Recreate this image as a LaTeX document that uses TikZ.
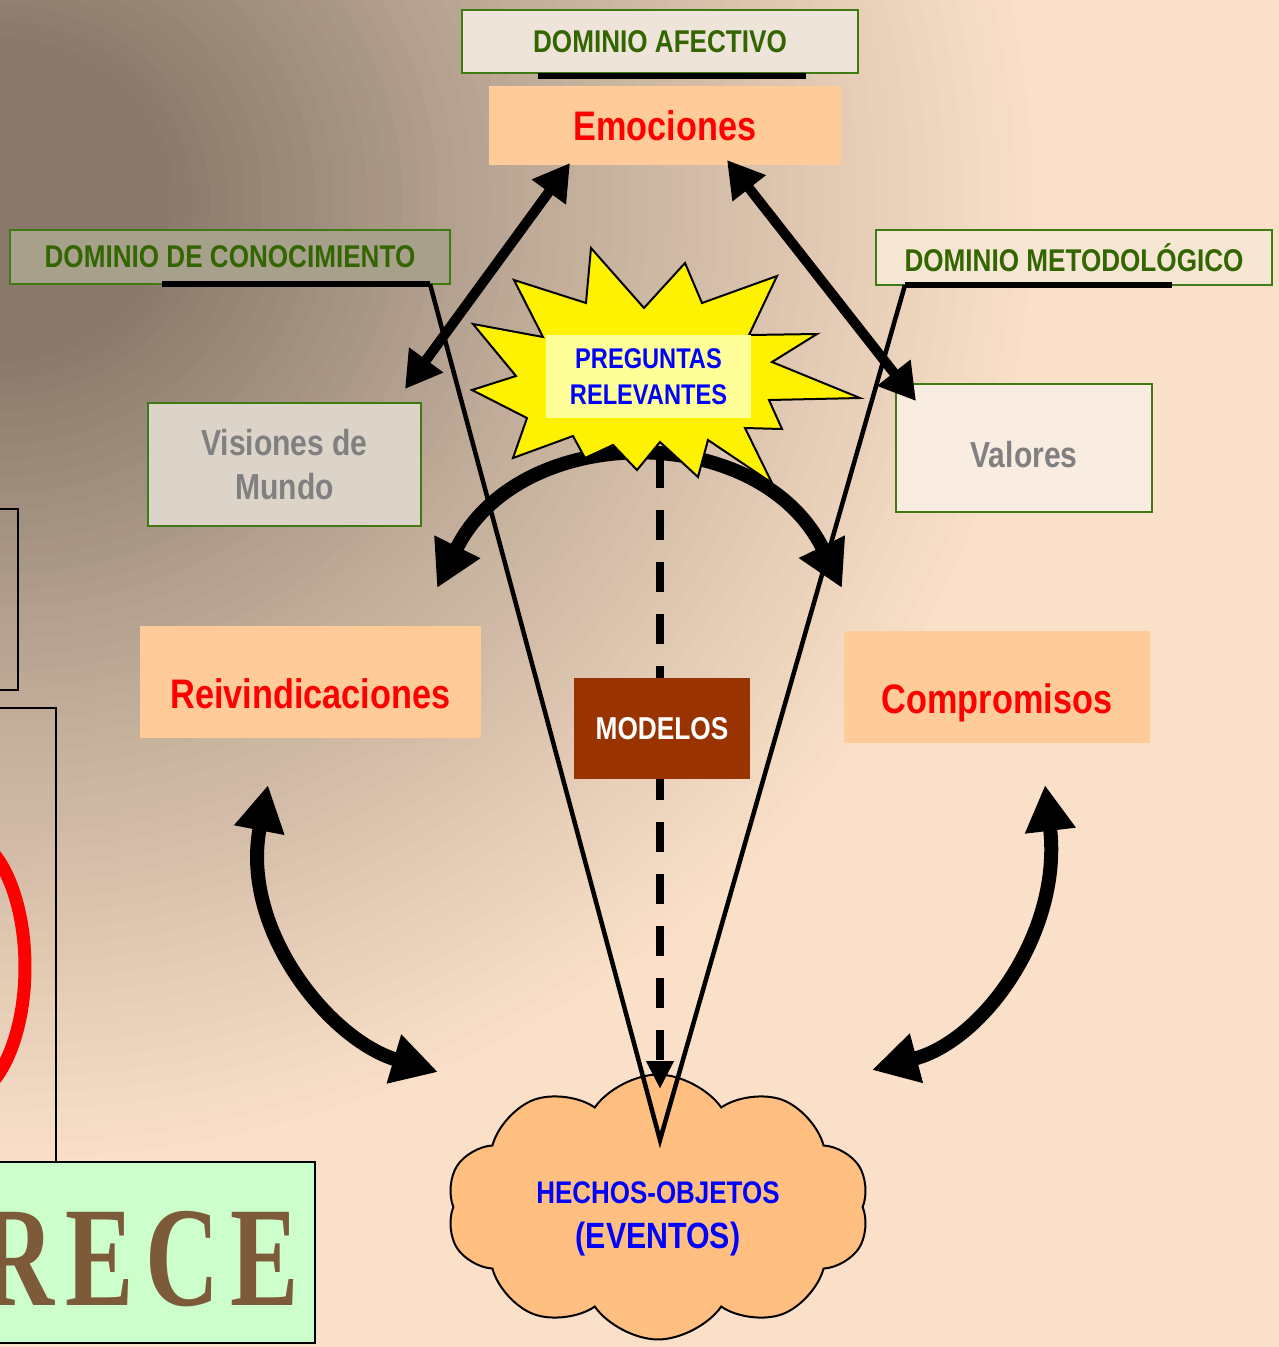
\documentclass[tikz,border=0pt]{standalone}
\usepackage{fontspec}
\setmainfont{Liberation Sans}
\newfontfamily\narrow[FakeStretch=0.83]{Liberation Sans}
\newfontfamily\wordart[FakeStretch=0.72,LetterSpace=8]{Liberation Serif}
\usetikzlibrary{arrows.meta,shapes.symbols}

\definecolor{bgdark}{RGB}{136,121,106}
\definecolor{bgpeach}{RGB}{250,224,200}
\definecolor{boxpeach}{HTML}{FFCC99}
\definecolor{modbrown}{HTML}{993300}
\definecolor{pregfill}{HTML}{FFFF99}
\definecolor{cloudfill}{HTML}{FFBF80}
\definecolor{recegreen}{HTML}{CCFFCC}
\definecolor{txtgreen}{HTML}{336600}
\definecolor{domgreen}{HTML}{3F7A12}
\definecolor{txtgray}{HTML}{808080}
\definecolor{afecfill}{HTML}{EEE4D9}
\definecolor{conofill}{HTML}{A7A08B}
\definecolor{metofill}{HTML}{F6E6D4}
\definecolor{visfill}{HTML}{DCD3C9}
\definecolor{valfill}{HTML}{F9EDE2}
\definecolor{wordbrown}{HTML}{7D5A38}

\begin{document}
\begin{tikzpicture}[x=0.02cm,y=-0.02cm,>={Triangle[length=0.72cm,width=0.8cm]},
  dombox/.style={draw=domgreen,line width=0.04cm,text=txtgreen,inner sep=0pt,
    font=\narrow\bfseries\fontsize{17.9}{20}\selectfont},
  peachbox/.style={fill=boxpeach,text=red,inner sep=0pt,
    font=\narrow\bfseries\fontsize{23.5}{26}\selectfont},
  graybox/.style={draw=domgreen,line width=0.04cm,text=txtgray,inner sep=0pt,align=center,
    font=\narrow\bfseries\fontsize{20.6}{25.5}\selectfont},
  bar/.style={line width=0.13cm},
  vline/.style={line width=0.09cm},
  bigarrow/.style={<->,line width=0.2cm},
  curvearrow/.style={line width=0.28cm,
    {Triangle[length=0.92cm,width=0.96cm]}-{Triangle[length=0.92cm,width=0.96cm]}},
  dasharrow/.style={line width=0.16cm,dash pattern=on 0.6cm off 0.44cm,
    -{Triangle[length=0.56cm,width=0.52cm]}}]
  \useasboundingbox (0,0) rectangle (1279,1347);
  \clip (0,0) rectangle (1279,1347);
  % background: dark in the upper left, peach elsewhere
  \fill[bgpeach] (0,0) rectangle (1279,1347);
  \foreach \i in {60,...,1} {
    \pgfmathsetmacro\f{\i/80}
    \pgfmathsetmacro\p{\f<0.12 ? 0 : (\f<0.4 ? (\f-0.12)/0.28*50 : 50+(\f-0.4)/0.35*50)}
    \fill[bgpeach!\p!bgdark] (0,200) ellipse ({1400*\f} and {1300*\f});
  }

  % left side, cut off by the page
  \draw[line width=0.04cm] (-20,509) rectangle (18,690);
  \draw[line width=0.04cm] (-20,708) -- (56,708) -- (56,1162);
  \draw[red,line width=0.26cm] (-39,967) ellipse (64 and 132);
  \draw[line width=0.04cm,fill=recegreen] (-20,1162) rectangle (315,1343);
  \node[anchor=base west,inner sep=0pt,text=wordbrown,
    font=\wordart\bfseries\fontsize{81}{81}\selectfont] (rece) at (-20,1305) {RECE};

  % domains
  \node[dombox,fill=afecfill,minimum width=7.92cm,minimum height=1.26cm] (afec) at (660,41.5) {DOMINIO AFECTIVO};
  \node[dombox,fill=conofill,minimum width=8.8cm,minimum height=1.08cm] (cono) at (230,257) {DOMINIO DE CONOCIMIENTO};
  \node[dombox,fill=metofill,minimum width=7.92cm,minimum height=1.1cm] (meto) at (1074,257.5) {DOMINIO METODOLÓGICO};

  \node[peachbox,minimum width=7.04cm,minimum height=1.58cm] (emo) at (665,125.5) {Emociones};
  \node[graybox,fill=visfill,minimum width=5.46cm,minimum height=2.46cm] (vis) at (284.5,464.5) {Visiones de\\Mundo};
  \node[graybox,fill=valfill,minimum width=5.12cm,minimum height=2.56cm,text height=22pt,text depth=0pt] (val) at (1024,448) {Valores};
  \node[peachbox,minimum width=6.82cm,minimum height=2.24cm,text height=30pt,text depth=0pt] (reiv) at (310.5,682) {Reivindicaciones};
  \node[peachbox,minimum width=6.12cm,minimum height=2.24cm,text height=30pt,text depth=0pt] (comp) at (997,687) {Compromisos};

  \node[cloud,cloud puffs=10,cloud puff arc=110,cloud ignores aspect,draw,line width=0.04cm,
    fill=cloudfill,minimum width=8.46cm,minimum height=5.3cm,align=center,text=blue,
    font=\narrow\bfseries\fontsize{17.8}{25.5}\selectfont] (hech) at (658,1207)
    {\rule{0pt}{26pt}HECHOS-OBJETOS\\{\fontsize{20.8}{25.5}\selectfont(EVENTOS)}};

  % the V
  \coordinate (afecL) at (538,76);
  \coordinate (afecR) at (806,76);
  \coordinate (conoL) at (162,284);
  \coordinate (conoR) at (430,284);
  \coordinate (metoL) at (905,285);
  \coordinate (metoR) at (1172,285);
  \coordinate (vtip) at (660,1140);
  \draw[bar] (afecL) -- (afecR);
  \draw[bar] (conoL) -- (conoR);
  \draw[bar] (metoL) -- (metoR);
  \draw[vline] (conoR) -- (vtip) -- (metoL);

  % arc and dashed line under the star
  \coordinate (arcL) at (437,588);
  \coordinate (arcR) at (842,588);
  \coordinate (dashtop) at (660,458);
  \coordinate (dashend) at (660,1089);
  \draw[curvearrow] (arcL) .. controls (520,420) and (760,420) .. (arcR);
  \draw[dasharrow] (dashtop) -- (dashend);

  \filldraw[fill=yellow,draw=black,line width=0.04cm]
    (591,248) -- (644,308) -- (685,263) -- (702,303) -- (777,276) -- (749,335)
    -- (817,334) -- (772,362) -- (860,398) -- (769,400) -- (782,429) -- (745,428)
    -- (772,483) -- (708,440) -- (698,477) -- (660,442) -- (637,470) -- (613,445)
    -- (585,458) -- (573,436) -- (513,458) -- (527,418) -- (472,390) -- (516,376)
    -- (473,324) -- (543,337) -- (514,280) -- (586,303) -- cycle;
  \node[fill=pregfill,text=blue,inner sep=0pt,align=center,minimum width=4.1cm,minimum height=1.66cm,
    font=\narrow\bfseries\fontsize{16.2}{20.4}\selectfont] (preg) at (648.5,376.5) {PREGUNTAS\\RELEVANTES};

  \node[fill=modbrown,text=white,inner sep=0pt,minimum width=3.52cm,minimum height=2.02cm,
    font=\narrow\bfseries\fontsize{18}{20}\selectfont] (mod) at (662,728.5) {MODELOS};

  % arrows
  \coordinate (emoL) at (570,163);
  \coordinate (visT) at (405,389);
  \coordinate (emoR) at (727,160);
  \coordinate (valT) at (916,401);
  \path[bigarrow] (emoL) edge (visT)
                  (emoR) edge (valT);

  \coordinate (reivB) at (268,785);
  \coordinate (hechL) at (438,1072);
  \coordinate (compB) at (1045,785);
  \coordinate (hechR) at (872,1070);
  \draw[curvearrow] (reivB) .. controls (240,930) and (330,1040) .. (hechL);
  \draw[curvearrow] (compB) .. controls (1062,930) and (985,1040) .. (hechR);
\end{tikzpicture}
\end{document}
